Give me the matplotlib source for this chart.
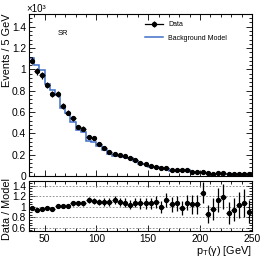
import numpy as np
import matplotlib
matplotlib.use("Agg")
import matplotlib.pyplot as plt
from matplotlib.lines import Line2D
from matplotlib.ticker import MultipleLocator, FormatStrFormatter

#########################
# DATA
#########################
BIN_LO = 35
BIN_W = 5
N_BINS = 43

# data counts per 5 GeV bin (35 -> 250 GeV)
data_counts = [1080, 980, 945, 850, 770, 770, 655, 595, 540, 460,
               445, 366, 352, 304, 262, 225, 210, 200, 188, 172,
               150, 118, 116, 90, 88, 75, 70, 52, 53, 55,
               57, 35, 36, 38, 25, 22, 24, 25, 18, 20,
               18, 16, 16]

# background model per bin
model_counts = [1102, 1043, 992, 867, 802, 755, 642, 587, 506, 431,
                417, 325, 318, 278, 240, 206, 185, 183, 174, 165,
                139, 111, 109, 84.6, 80.3, 75.5, 62.4, 49.8, 49.8, 56.5,
                52.9, 33.5, 34.4, 29.9, 29.2, 22.9, 21.4, 21.0, 20.3, 21.1,
                17.4, 14.9, 17.6]

LEGEND_LABELS = ["Data", "Background Model"]
REGION_LABEL = "SR"

COLOR_MODEL = "#3f6fc8"

#########################
# STYLE
#########################
plt.rcParams['font.family'] = ['Liberation Sans', 'DejaVu Sans']
plt.rcParams['mathtext.fontset'] = 'custom'
plt.rcParams['mathtext.rm'] = 'Liberation Sans'
plt.rcParams['mathtext.it'] = 'Liberation Sans:italic'
plt.rcParams['font.size'] = 7.4

edges = BIN_LO + BIN_W * np.arange(N_BINS + 1)
centers = edges[:-1] + BIN_W / 2
data = np.array(data_counts, dtype=float)
model = np.array(model_counts, dtype=float)
data_err = np.sqrt(data)
ratio = data / model
ratio_err = data_err / model

fig = plt.figure(figsize=(2.66, 2.58), dpi=100)
ax = fig.add_axes([0.109, 0.318, 0.838, 0.628])
axr = fig.add_axes([0.109, 0.105, 0.838, 0.193], sharex=ax)

# main panel
ax.stairs(model / 1000., edges, color=COLOR_MODEL, lw=1.1)
ax.errorbar(centers, data / 1000., yerr=data_err / 1000., xerr=BIN_W / 2,
            fmt='o', color='black', ms=2.8, lw=0.9, capsize=0)
ax.set_xlim(35, 250)
ax.set_ylim(0, 1.52)
ax.yaxis.set_major_locator(MultipleLocator(0.2))
ax.yaxis.set_minor_locator(MultipleLocator(0.04))
ax.yaxis.set_major_formatter(FormatStrFormatter('%g'))
ax.xaxis.set_major_locator(MultipleLocator(50))
ax.xaxis.set_minor_locator(MultipleLocator(10))
ax.tick_params(labelbottom=False)
ax.set_ylabel("Events / 5 GeV", loc='top', fontsize=7.8)
ax.yaxis.set_label_coords(-0.076, 1.0)
ax.text(-0.01, 1.0, "×10³", transform=ax.transAxes, fontsize=7, ha='left', va='bottom')
ax.text(0.13, 0.88, REGION_LABEL, transform=ax.transAxes, fontsize=5.5, ha='left', va='center')

# legend proxies (ROOT style "lep" marker for data)
h_data = (Line2D([], [], color='black', lw=0.9),
          Line2D([], [], color='black', marker='o', ms=2.8, ls='none'),
          Line2D([], [], color='black', marker='|', ms=5, mew=0.9, ls='none'))
h_model = Line2D([], [], color=COLOR_MODEL, lw=1.1)
ax.legend([h_data, h_model], LEGEND_LABELS, loc='upper left', bbox_to_anchor=(0.5, 0.985),
          frameon=False, fontsize=5, handlelength=2.6, labelspacing=0.95, borderpad=0.2,
          handletextpad=0.7)

# ratio panel
for yv in [0.6, 0.8, 1.0, 1.2, 1.4]:
    axr.axhline(yv, color='gray', lw=0.6, ls=(0, (2, 2)))
axr.errorbar(centers, ratio, yerr=ratio_err, xerr=BIN_W / 2,
             fmt='o', color='black', ms=2.8, lw=0.9, capsize=0)
axr.set_ylim(0.54, 1.49)
axr.yaxis.set_major_locator(MultipleLocator(0.2))
axr.yaxis.set_minor_locator(MultipleLocator(0.05))
axr.yaxis.set_major_formatter(FormatStrFormatter('%g'))
axr.set_ylabel("Data / Model", fontsize=7.8)
axr.yaxis.set_label_coords(-0.076, 0.45)
axr.set_xlabel(r"p$_{\mathrm{T}}$(γ) [GeV]", loc='right', labelpad=0, fontsize=7.8)

for a in (ax, axr):
    a.tick_params(which='both', direction='in', top=True, right=True, width=0.6)
    a.tick_params(which='major', length=4, pad=2)
    a.tick_params(which='minor', length=2)
    for s in a.spines.values():
        s.set_linewidth(0.8)

fig.savefig("out.png", dpi=100)
